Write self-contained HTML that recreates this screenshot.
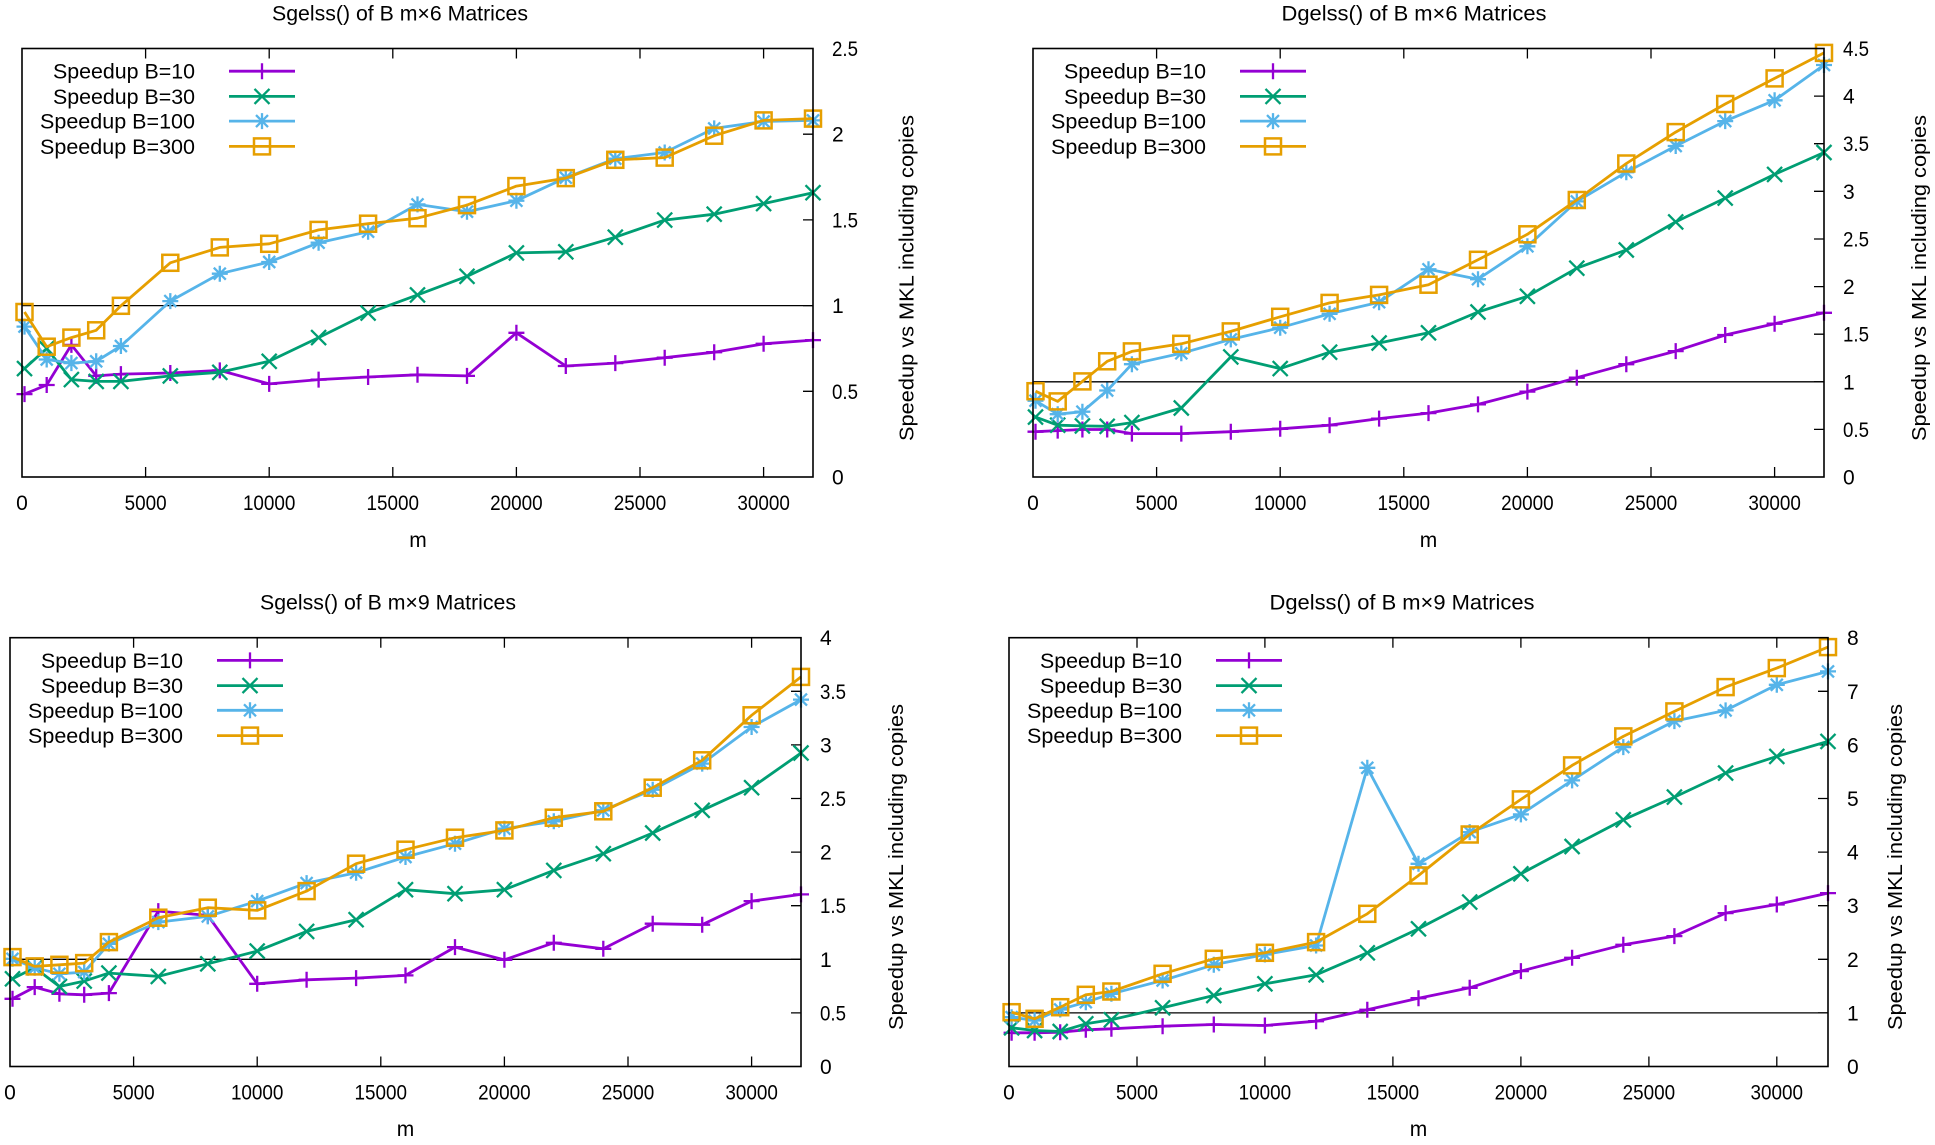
<!DOCTYPE html>
<html><head><meta charset="utf-8"><style>
html,body{margin:0;padding:0;background:#fff;}
svg{display:block;}
text{font-family:"Liberation Sans",sans-serif;fill:#000;}
.t{font-size:21px;text-anchor:middle;}
.xl{font-size:21px;text-anchor:middle;}
.yl{font-size:21px;text-anchor:start;}
.lg{font-size:21px;text-anchor:end;}
.yt{font-size:20px;text-anchor:middle;}
.ax{font-size:21px;text-anchor:middle;}
.ln{fill:none;stroke-width:2.8;stroke-linejoin:round;}
.c10{stroke:#9400d3;marker-start:url(#m10);marker-mid:url(#m10);marker-end:url(#m10);}
.c30{stroke:#009e73;marker-start:url(#m30);marker-mid:url(#m30);marker-end:url(#m30);}
.c100{stroke:#56b4e9;marker-start:url(#m100);marker-mid:url(#m100);marker-end:url(#m100);}
.c300{stroke:#e69f00;marker-start:url(#m300);marker-mid:url(#m300);marker-end:url(#m300);}
.k10{stroke:#9400d3;marker-mid:url(#m10);}
.k30{stroke:#009e73;marker-mid:url(#m30);}
.k100{stroke:#56b4e9;marker-mid:url(#m100);}
.k300{stroke:#e69f00;marker-mid:url(#m300);}
.bd{fill:none;stroke:#000;stroke-width:1.6;}
.tk{stroke:#000;stroke-width:1.3;fill:none;}
.one{stroke:#000;stroke-width:1.3;}
</style></head><body>
<svg width="1935" height="1145" viewBox="0 0 1935 1145" xmlns="http://www.w3.org/2000/svg">
<defs>
<marker id="m10" markerUnits="userSpaceOnUse" markerWidth="24" markerHeight="24" viewBox="-12 -12 24 24" refX="0" refY="0" overflow="visible"><path d="M-8,0H8M0,-8V8" stroke="#9400d3" stroke-width="2.3" fill="none"/></marker>
<marker id="m30" markerUnits="userSpaceOnUse" markerWidth="24" markerHeight="24" viewBox="-12 -12 24 24" refX="0" refY="0" overflow="visible"><path d="M-7.5,-7.5L7.5,7.5M-7.5,7.5L7.5,-7.5" stroke="#009e73" stroke-width="2.3" fill="none"/></marker>
<marker id="m100" markerUnits="userSpaceOnUse" markerWidth="24" markerHeight="24" viewBox="-12 -12 24 24" refX="0" refY="0" overflow="visible"><path d="M-8,0H8M0,-8V8M-6,-6L6,6M-6,6L6,-6" stroke="#56b4e9" stroke-width="2.3" fill="none"/></marker>
<marker id="m300" markerUnits="userSpaceOnUse" markerWidth="24" markerHeight="24" viewBox="-12 -12 24 24" refX="0" refY="0" overflow="visible"><rect x="-8" y="-8" width="16" height="16" stroke="#e69f00" stroke-width="2.5" fill="none"/></marker>
</defs>
<rect width="1935" height="1145" fill="#fff"/>

<!-- ================= TL ================= -->
<text class="t" x="400" y="20.5" textLength="256" lengthAdjust="spacingAndGlyphs">Sgelss() of B m×6 Matrices</text>
<line class="one" x1="22" y1="305.6" x2="813" y2="305.6"/>
<path class="tk" d="M145.6,477V467M269.2,477V467M392.8,477V467M516.4,477V467M640,477V467M763.6,477V467M145.6,48.5V58.5M269.2,48.5V58.5M392.8,48.5V58.5M516.4,48.5V58.5M640,48.5V58.5M763.6,48.5V58.5M813,391.3H803M813,305.6H803M813,219.9H803M813,134.2H803"/>
<g>
<text class="xl" x="22" y="510">0</text>
<text class="xl" x="145.6" y="510" textLength="42" lengthAdjust="spacingAndGlyphs">5000</text>
<text class="xl" x="269.2" y="510" textLength="52.5" lengthAdjust="spacingAndGlyphs">10000</text>
<text class="xl" x="392.8" y="510" textLength="52.5" lengthAdjust="spacingAndGlyphs">15000</text>
<text class="xl" x="516.4" y="510" textLength="52.5" lengthAdjust="spacingAndGlyphs">20000</text>
<text class="xl" x="640" y="510" textLength="52.5" lengthAdjust="spacingAndGlyphs">25000</text>
<text class="xl" x="763.6" y="510" textLength="52.5" lengthAdjust="spacingAndGlyphs">30000</text>
</g>
<g>
<text class="yl" x="832" y="484.5">0</text>
<text class="yl" x="832" y="398.8" textLength="26" lengthAdjust="spacingAndGlyphs">0.5</text>
<text class="yl" x="832" y="313.1">1</text>
<text class="yl" x="832" y="227.4" textLength="26" lengthAdjust="spacingAndGlyphs">1.5</text>
<text class="yl" x="832" y="141.7">2</text>
<text class="yl" x="832" y="56" textLength="26" lengthAdjust="spacingAndGlyphs">2.5</text>
</g>
<text class="yt" transform="translate(913.5,278) rotate(-90)" textLength="326" lengthAdjust="spacingAndGlyphs">Speedup vs MKL including copies</text>
<text class="ax" x="418" y="547">m</text>
<text class="lg" x="195" y="78.7" textLength="142" lengthAdjust="spacingAndGlyphs">Speedup B=10</text>
<text class="lg" x="195" y="103.9" textLength="142" lengthAdjust="spacingAndGlyphs">Speedup B=30</text>
<text class="lg" x="195" y="128.6" textLength="155" lengthAdjust="spacingAndGlyphs">Speedup B=100</text>
<text class="lg" x="195" y="153.9" textLength="155" lengthAdjust="spacingAndGlyphs">Speedup B=300</text>
<polyline class="ln k10" points="229,71.2 262,71.2 295,71.2"/>
<polyline class="ln k30" points="229,96.4 262,96.4 295,96.4"/>
<polyline class="ln k100" points="229,121.1 262,121.1 295,121.1"/>
<polyline class="ln k300" points="229,146.4 262,146.4 295,146.4"/>
<polyline class="ln c10" points="24.5,394.1 46.7,385.0 71.4,344.9 96.2,375.9 120.9,374.1 170.3,373.0 219.8,370.4 269.2,383.9 318.6,379.6 368.1,377.0 417.5,374.8 467.0,375.9 516.4,332.8 565.8,366.0 615.3,363.1 664.7,357.7 714.2,352.2 763.6,343.8 813.0,340.1"/>
<polyline class="ln c30" points="24.5,368.6 46.7,348.5 71.4,379.6 96.2,381.4 120.9,381.4 170.3,375.9 219.8,372.3 269.2,361.3 318.6,337.6 368.1,313.1 417.5,294.9 467.0,276.3 516.4,252.9 565.8,251.8 615.3,237.2 664.7,220.1 714.2,214.2 763.6,203.6 813.0,192.7"/>
<polyline class="ln c100" points="24.5,326.6 46.7,359.5 71.4,363.1 96.2,361.3 120.9,346.0 170.3,301.1 219.8,273.7 269.2,262.0 318.6,242.7 368.1,231.7 417.5,204.4 467.0,211.7 516.4,200.7 565.8,177.7 615.3,158.7 664.7,152.5 714.2,128.4 763.6,121.5 813.0,120.4"/>
<polyline class="ln c300" points="24.5,312.0 46.7,346.7 71.4,337.6 96.2,330.3 120.9,305.8 170.3,262.8 219.8,247.4 269.2,243.8 318.6,229.9 368.1,223.7 417.5,218.2 467.0,205.1 516.4,186.1 565.8,178.1 615.3,159.8 664.7,157.6 714.2,135.7 763.6,120.4 813.0,118.6"/>
<rect class="bd" x="22" y="48.5" width="791" height="428.5"/>

<!-- ================= TR ================= -->
<text class="t" x="1414" y="20.5" textLength="265" lengthAdjust="spacingAndGlyphs">Dgelss() of B m×6 Matrices</text>
<line class="one" x1="1033" y1="381.8" x2="1824" y2="381.8"/>
<path class="tk" d="M1156.6,477V467M1280.2,477V467M1403.8,477V467M1527.4,477V467M1651,477V467M1774.6,477V467M1156.6,48.5V58.5M1280.2,48.5V58.5M1403.8,48.5V58.5M1527.4,48.5V58.5M1651,48.5V58.5M1774.6,48.5V58.5M1824,429.4H1814M1824,381.8H1814M1824,334.2H1814M1824,286.6H1814M1824,239H1814M1824,191.3H1814M1824,143.7H1814M1824,96.1H1814"/>
<g>
<text class="xl" x="1033" y="510">0</text>
<text class="xl" x="1156.6" y="510" textLength="42" lengthAdjust="spacingAndGlyphs">5000</text>
<text class="xl" x="1280.2" y="510" textLength="52.5" lengthAdjust="spacingAndGlyphs">10000</text>
<text class="xl" x="1403.8" y="510" textLength="52.5" lengthAdjust="spacingAndGlyphs">15000</text>
<text class="xl" x="1527.4" y="510" textLength="52.5" lengthAdjust="spacingAndGlyphs">20000</text>
<text class="xl" x="1651" y="510" textLength="52.5" lengthAdjust="spacingAndGlyphs">25000</text>
<text class="xl" x="1774.6" y="510" textLength="52.5" lengthAdjust="spacingAndGlyphs">30000</text>
</g>
<g>
<text class="yl" x="1843" y="484.5">0</text>
<text class="yl" x="1843" y="436.9" textLength="26" lengthAdjust="spacingAndGlyphs">0.5</text>
<text class="yl" x="1843" y="389.3">1</text>
<text class="yl" x="1843" y="341.7" textLength="26" lengthAdjust="spacingAndGlyphs">1.5</text>
<text class="yl" x="1843" y="294.1">2</text>
<text class="yl" x="1843" y="246.5" textLength="26" lengthAdjust="spacingAndGlyphs">2.5</text>
<text class="yl" x="1843" y="198.8">3</text>
<text class="yl" x="1843" y="151.2" textLength="26" lengthAdjust="spacingAndGlyphs">3.5</text>
<text class="yl" x="1843" y="103.6">4</text>
<text class="yl" x="1843" y="56" textLength="26" lengthAdjust="spacingAndGlyphs">4.5</text>
</g>
<text class="yt" transform="translate(1926,278) rotate(-90)" textLength="326" lengthAdjust="spacingAndGlyphs">Speedup vs MKL including copies</text>
<text class="ax" x="1428.5" y="547">m</text>
<text class="lg" x="1206" y="78.7" textLength="142" lengthAdjust="spacingAndGlyphs">Speedup B=10</text>
<text class="lg" x="1206" y="103.9" textLength="142" lengthAdjust="spacingAndGlyphs">Speedup B=30</text>
<text class="lg" x="1206" y="128.6" textLength="155" lengthAdjust="spacingAndGlyphs">Speedup B=100</text>
<text class="lg" x="1206" y="153.9" textLength="155" lengthAdjust="spacingAndGlyphs">Speedup B=300</text>
<polyline class="ln k10" points="1240,71.2 1273,71.2 1306,71.2"/>
<polyline class="ln k30" points="1240,96.4 1273,96.4 1306,96.4"/>
<polyline class="ln k100" points="1240,121.1 1273,121.1 1306,121.1"/>
<polyline class="ln k300" points="1240,146.4 1273,146.4 1306,146.4"/>
<polyline class="ln c10" points="1035.5,431.7 1057.7,430.6 1082.4,429.5 1107.2,429.5 1131.9,433.6 1181.3,433.6 1230.8,431.7 1280.2,428.8 1329.6,425.2 1379.1,418.6 1428.5,413.1 1478.0,404.4 1527.4,391.6 1576.8,377.7 1626.3,364.2 1675.7,351.1 1725.2,335.0 1774.6,323.7 1824.0,312.8"/>
<polyline class="ln c30" points="1035.5,417.1 1057.7,425.2 1082.4,425.9 1107.2,426.3 1131.9,422.6 1181.3,408.0 1230.8,356.9 1280.2,368.6 1329.6,352.2 1379.1,343.0 1428.5,332.8 1478.0,312.0 1527.4,296.3 1576.8,268.2 1626.3,250.0 1675.7,221.9 1725.2,198.1 1774.6,174.4 1824.0,152.5"/>
<polyline class="ln c100" points="1035.5,400.7 1057.7,414.2 1082.4,411.7 1107.2,390.5 1131.9,364.2 1181.3,353.3 1230.8,339.4 1280.2,327.7 1329.6,313.8 1379.1,302.2 1428.5,269.3 1478.0,279.2 1527.4,246.3 1576.8,201.4 1626.3,172.2 1675.7,146.0 1725.2,121.1 1774.6,100.3 1824.0,65.0"/>
<polyline class="ln c300" points="1035.5,391.2 1057.7,401.4 1082.4,381.4 1107.2,361.3 1131.9,351.4 1181.3,343.8 1230.8,331.4 1280.2,316.8 1329.6,302.9 1379.1,294.9 1428.5,284.7 1478.0,259.8 1527.4,234.3 1576.8,200.0 1626.3,163.5 1675.7,132.1 1725.2,104.0 1774.6,78.4 1824.0,52.9"/>
<rect class="bd" x="1033" y="48.5" width="791" height="428.5"/>

<!-- ================= BL ================= -->
<text class="t" x="388" y="609.5" textLength="256" lengthAdjust="spacingAndGlyphs">Sgelss() of B m×9 Matrices</text>
<line class="one" x1="10" y1="959.3" x2="801" y2="959.3"/>
<path class="tk" d="M133.6,1066.5V1056.5M257.2,1066.5V1056.5M380.8,1066.5V1056.5M504.4,1066.5V1056.5M628,1066.5V1056.5M751.6,1066.5V1056.5M133.6,637.7V647.7M257.2,637.7V647.7M380.8,637.7V647.7M504.4,637.7V647.7M628,637.7V647.7M751.6,637.7V647.7M801,1012.9H791M801,959.3H791M801,905.7H791M801,852.1H791M801,798.5H791M801,744.9H791M801,691.3H791"/>
<g>
<text class="xl" x="10" y="1099.5">0</text>
<text class="xl" x="133.6" y="1099.5" textLength="42" lengthAdjust="spacingAndGlyphs">5000</text>
<text class="xl" x="257.2" y="1099.5" textLength="52.5" lengthAdjust="spacingAndGlyphs">10000</text>
<text class="xl" x="380.8" y="1099.5" textLength="52.5" lengthAdjust="spacingAndGlyphs">15000</text>
<text class="xl" x="504.4" y="1099.5" textLength="52.5" lengthAdjust="spacingAndGlyphs">20000</text>
<text class="xl" x="628" y="1099.5" textLength="52.5" lengthAdjust="spacingAndGlyphs">25000</text>
<text class="xl" x="751.6" y="1099.5" textLength="52.5" lengthAdjust="spacingAndGlyphs">30000</text>
</g>
<g>
<text class="yl" x="820" y="1074">0</text>
<text class="yl" x="820" y="1020.4" textLength="26" lengthAdjust="spacingAndGlyphs">0.5</text>
<text class="yl" x="820" y="966.8">1</text>
<text class="yl" x="820" y="913.2" textLength="26" lengthAdjust="spacingAndGlyphs">1.5</text>
<text class="yl" x="820" y="859.6">2</text>
<text class="yl" x="820" y="806" textLength="26" lengthAdjust="spacingAndGlyphs">2.5</text>
<text class="yl" x="820" y="752.4">3</text>
<text class="yl" x="820" y="698.8" textLength="26" lengthAdjust="spacingAndGlyphs">3.5</text>
<text class="yl" x="820" y="645.2">4</text>
</g>
<text class="yt" transform="translate(903,867) rotate(-90)" textLength="326" lengthAdjust="spacingAndGlyphs">Speedup vs MKL including copies</text>
<text class="ax" x="405.5" y="1136">m</text>
<text class="lg" x="183" y="667.9" textLength="142" lengthAdjust="spacingAndGlyphs">Speedup B=10</text>
<text class="lg" x="183" y="693.1" textLength="142" lengthAdjust="spacingAndGlyphs">Speedup B=30</text>
<text class="lg" x="183" y="717.8" textLength="155" lengthAdjust="spacingAndGlyphs">Speedup B=100</text>
<text class="lg" x="183" y="743.1" textLength="155" lengthAdjust="spacingAndGlyphs">Speedup B=300</text>
<polyline class="ln k10" points="217,660.4 250,660.4 283,660.4"/>
<polyline class="ln k30" points="217,685.6 250,685.6 283,685.6"/>
<polyline class="ln k100" points="217,710.3 250,710.3 283,710.3"/>
<polyline class="ln k300" points="217,735.6 250,735.6 283,735.6"/>
<polyline class="ln c10" points="12.5,998.8 34.7,987.1 59.4,993.8 84.2,994.8 108.9,993.1 158.3,911.1 207.8,915.4 257.2,983.8 306.6,979.8 356.1,978.1 405.5,975.4 455.0,947.1 504.4,959.8 553.8,942.8 603.3,948.8 652.7,923.7 702.2,924.7 751.6,901.1 801.0,894.4"/>
<polyline class="ln c30" points="12.5,978.8 34.7,967.8 59.4,986.5 84.2,981.1 108.9,973.1 158.3,976.4 207.8,963.8 257.2,951.1 306.6,931.4 356.1,919.7 405.5,889.7 455.0,893.7 504.4,889.7 553.8,870.4 603.3,853.7 652.7,833.0 702.2,810.3 751.6,787.7 801.0,753.0"/>
<polyline class="ln c100" points="12.5,958.8 34.7,967.8 59.4,973.8 84.2,972.1 108.9,943.8 158.3,922.1 207.8,916.4 257.2,901.1 306.6,883.1 356.1,872.7 405.5,857.0 455.0,843.7 504.4,828.7 553.8,821.3 603.3,810.3 652.7,789.7 702.2,763.6 751.6,727.0 801.0,699.6"/>
<polyline class="ln c300" points="12.5,957.1 34.7,966.4 59.4,964.8 84.2,963.1 108.9,942.1 158.3,917.7 207.8,907.7 257.2,910.4 306.6,891.1 356.1,863.7 405.5,849.7 455.0,837.7 504.4,830.4 553.8,817.7 603.3,811.3 652.7,787.7 702.2,760.3 751.6,715.3 801.0,676.9"/>
<rect class="bd" x="10" y="637.7" width="791" height="428.8"/>

<!-- ================= BR ================= -->
<text class="t" x="1402" y="609.5" textLength="265" lengthAdjust="spacingAndGlyphs">Dgelss() of B m×9 Matrices</text>
<line class="one" x1="1009" y1="1012.9" x2="1828" y2="1012.9"/>
<path class="tk" d="M1137,1066.5V1056.5M1264.9,1066.5V1056.5M1392.9,1066.5V1056.5M1520.9,1066.5V1056.5M1648.9,1066.5V1056.5M1776.8,1066.5V1056.5M1137,637.7V647.7M1264.9,637.7V647.7M1392.9,637.7V647.7M1520.9,637.7V647.7M1648.9,637.7V647.7M1776.8,637.7V647.7M1828,1012.9H1818M1828,959.3H1818M1828,905.7H1818M1828,852.1H1818M1828,798.5H1818M1828,744.9H1818M1828,691.3H1818"/>
<g>
<text class="xl" x="1009" y="1099.5">0</text>
<text class="xl" x="1137" y="1099.5" textLength="42" lengthAdjust="spacingAndGlyphs">5000</text>
<text class="xl" x="1264.9" y="1099.5" textLength="52.5" lengthAdjust="spacingAndGlyphs">10000</text>
<text class="xl" x="1392.9" y="1099.5" textLength="52.5" lengthAdjust="spacingAndGlyphs">15000</text>
<text class="xl" x="1520.9" y="1099.5" textLength="52.5" lengthAdjust="spacingAndGlyphs">20000</text>
<text class="xl" x="1648.9" y="1099.5" textLength="52.5" lengthAdjust="spacingAndGlyphs">25000</text>
<text class="xl" x="1776.8" y="1099.5" textLength="52.5" lengthAdjust="spacingAndGlyphs">30000</text>
</g>
<g>
<text class="yl" x="1847" y="1074">0</text>
<text class="yl" x="1847" y="1020.4">1</text>
<text class="yl" x="1847" y="966.8">2</text>
<text class="yl" x="1847" y="913.2">3</text>
<text class="yl" x="1847" y="859.6">4</text>
<text class="yl" x="1847" y="806">5</text>
<text class="yl" x="1847" y="752.4">6</text>
<text class="yl" x="1847" y="698.8">7</text>
<text class="yl" x="1847" y="645.2">8</text>
</g>
<text class="yt" transform="translate(1902,867) rotate(-90)" textLength="326" lengthAdjust="spacingAndGlyphs">Speedup vs MKL including copies</text>
<text class="ax" x="1418.5" y="1136">m</text>
<text class="lg" x="1182" y="667.9" textLength="142" lengthAdjust="spacingAndGlyphs">Speedup B=10</text>
<text class="lg" x="1182" y="693.1" textLength="142" lengthAdjust="spacingAndGlyphs">Speedup B=30</text>
<text class="lg" x="1182" y="717.8" textLength="155" lengthAdjust="spacingAndGlyphs">Speedup B=100</text>
<text class="lg" x="1182" y="743.1" textLength="155" lengthAdjust="spacingAndGlyphs">Speedup B=300</text>
<polyline class="ln k10" points="1216,660.4 1249,660.4 1282,660.4"/>
<polyline class="ln k30" points="1216,685.6 1249,685.6 1282,685.6"/>
<polyline class="ln k100" points="1216,710.3 1249,710.3 1282,710.3"/>
<polyline class="ln k300" points="1216,735.6 1249,735.6 1282,735.6"/>
<polyline class="ln c10" points="1011.6,1032.8 1034.6,1032.8 1060.2,1032.2 1085.8,1029.8 1111.4,1028.8 1162.6,1026.2 1213.8,1024.5 1264.9,1025.5 1316.1,1021.2 1367.3,1009.8 1418.5,998.2 1469.7,987.8 1520.9,971.1 1572.1,957.8 1623.3,944.8 1674.4,936.1 1725.6,913.1 1776.8,904.5 1828.0,893.1"/>
<polyline class="ln c30" points="1011.6,1027.8 1034.6,1030.5 1060.2,1031.5 1085.8,1023.8 1111.4,1019.8 1162.6,1007.8 1213.8,995.5 1264.9,983.8 1316.1,974.8 1367.3,952.8 1418.5,928.8 1469.7,902.1 1520.9,873.8 1572.1,846.5 1623.3,819.8 1674.4,797.1 1725.6,773.1 1776.8,756.4 1828.0,741.4"/>
<polyline class="ln c100" points="1011.6,1017.2 1034.6,1020.5 1060.2,1009.5 1085.8,1002.2 1111.4,993.8 1162.6,980.5 1213.8,964.8 1264.9,954.5 1316.1,945.5 1367.3,767.8 1418.5,863.8 1469.7,832.1 1520.9,814.4 1572.1,780.4 1623.3,747.1 1674.4,721.1 1725.6,710.4 1776.8,684.8 1828.0,671.4"/>
<polyline class="ln c300" points="1011.6,1012.2 1034.6,1018.8 1060.2,1007.2 1085.8,994.8 1111.4,991.5 1162.6,973.8 1213.8,958.8 1264.9,952.8 1316.1,942.1 1367.3,913.8 1418.5,875.5 1469.7,834.5 1520.9,799.4 1572.1,765.4 1623.3,736.4 1674.4,711.4 1725.6,687.1 1776.8,668.1 1828.0,647.1"/>
<rect class="bd" x="1009" y="637.7" width="819" height="428.8"/>
</svg>
</body></html>
